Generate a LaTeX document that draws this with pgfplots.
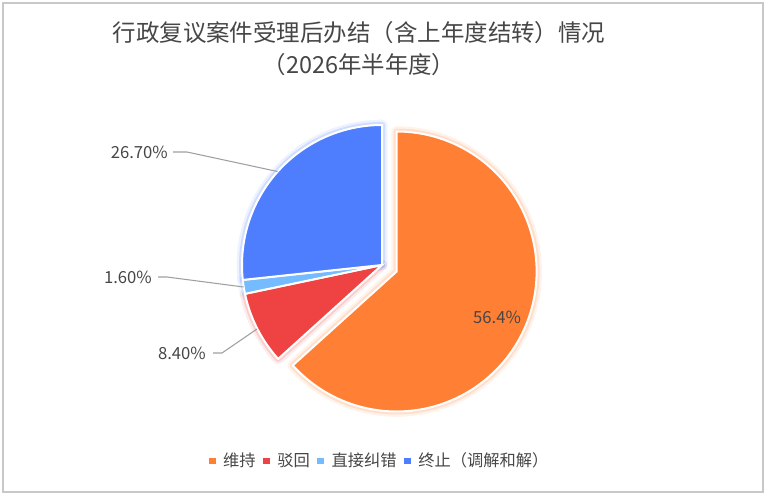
\documentclass[border=0pt]{standalone}
\usepackage{fontspec}
\setmainfont{Noto Sans CJK SC}
\usepackage{pgfplots}
\pgfplotsset{compat=1.18}
\definecolor{cOr}{RGB}{255,128,52}
\definecolor{cRe}{RGB}{239,66,66}
\definecolor{cLb}{RGB}{116,187,255}
\definecolor{cBl}{RGB}{78,125,254}
\definecolor{cTx}{RGB}{70,70,70}
\definecolor{cLn}{RGB}{160,160,160}
\definecolor{cBd}{RGB}{200,200,200}
% glow layers of one slice: #1 colour, #2 from angle, #3 to angle, #4 cx, #5 cy
\newcommand\glow[5]{%
  \addplot[draw=#1, draw opacity=0.10, line width=8pt, line join=round, fill=none, domain=#2:#3, samples=120, forget plot] ({#4+140*cos(x)},{#5-140*sin(x)}) -- (axis cs:#4,#5) -- cycle;
  \addplot[draw=#1, draw opacity=0.18, line width=4.5pt, line join=round, fill=none, domain=#2:#3, samples=120, forget plot] ({#4+140*cos(x)},{#5-140*sin(x)}) -- (axis cs:#4,#5) -- cycle;
}
\newcommand\slice[5]{%
  \addplot[fill=#1, draw=white, line width=1.5pt, line join=miter, domain=#2:#3, samples=120, forget plot] ({#4+140*cos(x)},{#5-140*sin(x)}) -- (axis cs:#4,#5) -- cycle;
}
\begin{document}
\begin{tikzpicture}
% shares of the full circle, in percent (as drawn)
\pgfmathsetmacro\vA{63.3}% 维持 (labelled 56.4%)
\pgfmathsetmacro\vB{8.4}%  驳回
\pgfmathsetmacro\vC{1.6}%  直接纠错
\pgfmathsetmacro\vD{26.7}% 终止（调解和解）
\pgfmathsetmacro\sA{90}
\pgfmathsetmacro\eA{\sA-\vA*3.6}
\pgfmathsetmacro\eB{\eA-\vB*3.6}
\pgfmathsetmacro\eC{\eB-\vC*3.6}
\pgfmathsetmacro\eD{\eC-\vD*3.6}
\pgfmathsetmacro\mA{(\sA+\eA)/2}
\pgfmathsetmacro\oxA{382+16*cos(\mA)}
\pgfmathsetmacro\oyA{265-16*sin(\mA)}
\begin{axis}[
  scale only axis, width=576.75pt, height=372pt,
  xmin=0, xmax=769, ymin=0, ymax=496, y dir=reverse,
  hide axis, clip=false,
  legend image code/.code={\fill[#1] (0pt,-2.6pt) rectangle (5.25pt,2.6pt);},
  legend columns=4,
  legend style={at={(axis cs:380,461)}, anchor=center, draw=none, fill=none,
    font=\fontsize{12.2}{14}\selectfont, text=cTx,
    /tikz/every odd column/.append style={column sep=3.5pt},
    /tikz/every even column/.append style={column sep=3.5pt}},
]
\path (axis cs:0,0) rectangle (axis cs:769,496);
\draw[cBd, line width=1.1pt] (axis cs:3,3) rectangle (axis cs:763,492);
% glows
\glow{cOr}{\eA}{\sA}{\oxA}{\oyA}
\glow{cRe}{\eB}{\eA}{382}{265}
\glow{cLb}{\eC}{\eB}{382}{265}
\glow{cBl}{\eD}{\eC}{382}{265}
% slices
\slice{cOr}{\eA}{\sA}{\oxA}{\oyA}
\slice{cRe}{\eB}{\eA}{382}{265}
\slice{cLb}{\eC}{\eB}{382}{265}
\slice{cBl}{\eD}{\eC}{382}{265}
% leader lines
\addplot[cLn, line width=0.8pt, forget plot] coordinates {(173,152) (187,152) (277.5,171.5)};
\addplot[cLn, line width=0.8pt, forget plot] coordinates {(158,277) (167,277) (243.5,287)};
\addplot[cLn, line width=0.8pt, forget plot] coordinates {(213,353) (222,353) (257,329)};
% labels
\node[anchor=east, font=\fontsize{12.5}{14}\selectfont, text=cTx, inner sep=0pt] at (axis cs:168,152.5) {26.70\%};
\node[anchor=east, font=\fontsize{12.5}{14}\selectfont, text=cTx, inner sep=0pt] at (axis cs:152,277) {1.60\%};
\node[anchor=east, font=\fontsize{12.5}{14}\selectfont, text=cTx, inner sep=0pt] at (axis cs:206,353.5) {8.40\%};
\node[anchor=center, font=\fontsize{12.5}{14}\selectfont, text=cTx, inner sep=0pt] at (axis cs:497,317) {56.4\%};
% title
\node[anchor=center, font=\fontsize{17.6}{20}\selectfont, text=cTx, inner sep=0pt] at (axis cs:359,33) {行政复议案件受理后办结（含上年度结转）情况};
\node[anchor=center, font=\fontsize{17.6}{20}\selectfont, text=cTx, inner sep=0pt] at (axis cs:359,65) {（2026年半年度）};
% legend
\addlegendimage{fill=cOr, draw=none}
\addlegendimage{fill=cRe, draw=none}
\addlegendimage{fill=cLb, draw=none}
\addlegendimage{fill=cBl, draw=none}
\legend{维持,驳回,直接纠错,终止（调解和解）}
\end{axis}
\end{tikzpicture}
\end{document}
